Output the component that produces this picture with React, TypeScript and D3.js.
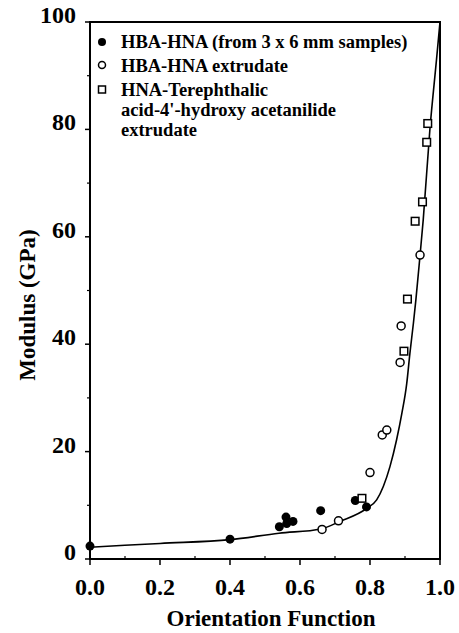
import React from 'react';
import * as d3 from 'd3';

// filled circles: HBA-HNA (from 3 x 6 mm samples)
const filledX = [0.0, 0.4, 0.541, 0.56, 0.562, 0.58, 0.659, 0.758, 0.79];
const filledY = [2.4, 3.7, 6.0, 7.8, 6.6, 7.0, 9.0, 10.9, 9.7];

// open circles: HBA-HNA extrudate
const openX = [0.663, 0.71, 0.80, 0.835, 0.848, 0.886, 0.889, 0.943];
const openY = [5.5, 7.1, 16.1, 23.1, 24.0, 36.6, 43.4, 56.6];

// squares: HNA-Terephthalic acid-4'-hydroxy acetanilide extrudate
const squareX = [0.777, 0.897, 0.907, 0.929, 0.950, 0.962, 0.965];
const squareY = [11.3, 38.7, 48.4, 62.9, 66.5, 77.6, 81.1];

// fitted curve
const curveX = [0, 0.2, 0.4, 0.54, 0.66, 0.714, 0.79, 0.819, 0.838, 0.857, 0.876, 0.891, 0.905, 0.914, 0.924, 0.931, 0.943, 0.952, 0.971, 0.99, 1.0];
const curveY = [2.2, 2.9, 3.6, 4.8, 5.6, 7.0, 9.4, 11.0, 13.5, 17.2, 22.2, 27.1, 32.7, 38.3, 43.9, 48.2, 56.6, 63.1, 79.9, 93, 100];

const xTicks = [0, 0.2, 0.4, 0.6, 0.8, 1.0];
const yTicks = [0, 20, 40, 60, 80, 100];
const xMinor = [0.1, 0.3, 0.5, 0.7, 0.9];
const yMinor = [10, 30, 50, 70, 90];

const legendLabels = [
  ['HBA-HNA (from 3 x 6 mm samples)'],
  ['HBA-HNA extrudate'],
  ['HNA-Terephthalic', "acid-4'-hydroxy acetanilide", 'extrudate'],
];

const W = 459;
const H = 633;
const margin = { left: 90, right: 19, top: 22, bottom: 74 };
const FONT = '"Liberation Serif", "Times New Roman", serif';

export default function App() {
  const x = d3.scaleLinear().domain([0, 1]).range([margin.left, W - margin.right]);
  const y = d3.scaleLinear().domain([0, 100]).range([H - margin.bottom, margin.top]);

  const line = d3.line<number>()
    .x((_, i) => x(curveX[i]))
    .y((_, i) => y(curveY[i]))
    .curve(d3.curveMonotoneX);

  const x0 = x(0), x1 = x(1), y0 = y(0), y1 = y(100);

  // legend positions
  const legTop = [48, 72, 96];
  const lineGap = 20;
  const symX = 102;
  const textX = 121;

  return (
    <svg width={W} height={H} style={{ position: 'absolute', left: 0, top: 0, background: '#fff' }}
      fontFamily={FONT}>
      {/* frame */}
      <rect x={x0} y={y1} width={x1 - x0} height={y0 - y1} fill="none" stroke="#000" strokeWidth={2} />

      {/* x ticks */}
      {xTicks.map(t => (
        <g key={'xt' + t}>
          <line x1={x(t)} x2={x(t)} y1={y0} y2={y0 + 6} stroke="#000" strokeWidth={1.5} />
          <text x={x(t)} y={595} textAnchor="middle" fontSize={24} fontWeight="bold">{t.toFixed(1)}</text>
        </g>
      ))}
      {xMinor.map(t => (
        <line key={'xm' + t} x1={x(t)} x2={x(t)} y1={y0} y2={y0 - 3} stroke="#000" strokeWidth={1.2} />
      ))}

      {/* y ticks */}
      {yTicks.map(t => (
        <g key={'yt' + t}>
          <line x1={x0 - 5} x2={x0} y1={y(t)} y2={y(t)} stroke="#000" strokeWidth={1.5} />
          <text x={76} y={y(t) + 1} textAnchor="end" fontSize={24} fontWeight="bold">{t}</text>
        </g>
      ))}
      {yMinor.map(t => (
        <line key={'ym' + t} x1={x0 - 3} x2={x0} y1={y(t)} y2={y(t)} stroke="#000" strokeWidth={1.2} />
      ))}

      {/* axis titles */}
      <text x={271} y={626} textAnchor="middle" fontSize={23} fontWeight="bold">Orientation Function</text>
      <text transform={`translate(35,${305}) rotate(-90)`} textAnchor="middle" fontSize={23} fontWeight="bold">
        Modulus (GPa)
      </text>

      {/* curve */}
      <path d={line(curveX) || ''} fill="none" stroke="#000" strokeWidth={1.6} />

      {/* data */}
      {filledX.map((v, i) => (
        <circle key={'f' + i} cx={x(v)} cy={y(filledY[i])} r={4.5} fill="#000" />
      ))}
      {openX.map((v, i) => (
        <circle key={'o' + i} cx={x(v)} cy={y(openY[i])} r={4} fill="#fff" stroke="#000" strokeWidth={1.5} />
      ))}
      {squareX.map((v, i) => (
        <rect key={'s' + i} x={x(v) - 3.8} y={y(squareY[i]) - 3.8} width={7.6} height={7.6}
          fill="#fff" stroke="#000" strokeWidth={1.5} />
      ))}

      {/* legend */}
      <circle cx={symX} cy={42} r={4} fill="#000" />
      <circle cx={symX} cy={65} r={3.5} fill="#fff" stroke="#000" strokeWidth={1.5} />
      <rect x={symX - 3.5} y={86} width={7} height={7} fill="#fff" stroke="#000" strokeWidth={1.5} />
      {legendLabels.map((lines, i) => (
        <text key={'l' + i} fontSize={18.5} fontWeight="bold">
          {lines.map((s, j) => (
            <tspan key={j} x={textX} y={legTop[i] + j * lineGap}>{s}</tspan>
          ))}
        </text>
      ))}
    </svg>
  );
}
